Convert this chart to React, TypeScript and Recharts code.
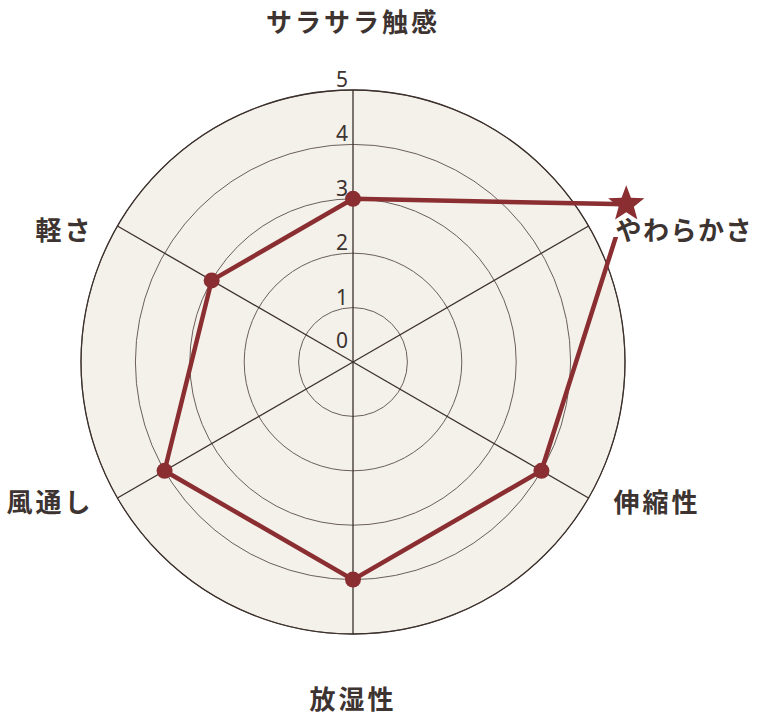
import React from 'react';
import { RadarChart, Radar, PolarGrid, PolarAngleAxis, PolarRadiusAxis } from 'recharts';

// 6 items, clockwise from the top
const categories = ['サラサラ触感', 'やわらかさ', '伸縮性', '放湿性', '風通し', '軽さ'];
const scores = [3, 5.8, 4, 4, 4, 3];
const radiusTicks = [0, 1, 2, 3, 4, 5];
const starIndex = 1; // やわらかさ gets the star mark

const data = categories.map((c, i) => ({ axis: c, score: scores[i] }));

const W = 758;
const H = 719;
const CX = 353;
const CY = 362;
const R = 272;

const RED = '#8a2e32';
const TEXT = '#3d3431';
const JP_FONT = '"Noto Sans CJK JP", "Noto Sans", sans-serif';

// label placement relative to the point Recharts gives (outer radius + 8)
const labelLayout = [
  { dx: 0, dy: -62, anchor: 'middle', ls: 3 },
  { dx: 20, dy: 6, anchor: 'start', ls: 1.5, bg: true },
  { dx: 18, dy: -2, anchor: 'start', ls: 3 },
  { dx: 0, dy: 55, anchor: 'middle', ls: 3 },
  { dx: -17, dy: -2, anchor: 'end', ls: 3 },
  { dx: -17, dy: 6, anchor: 'end', ls: 3 },
];

const AngleTick = (props: any) => {
  const { x, y, payload, index } = props;
  const l = labelLayout[index] || { dx: 0, dy: 0, anchor: 'middle', ls: 0 };
  const tx = x + l.dx;
  const ty = y + l.dy;
  return (
    <g>
      {l.bg && <rect x={tx - 6} y={ty - 16} width={142} height={25} fill="#ffffff" />}
      <text
        x={tx}
        y={ty}
        textAnchor={l.anchor}
        dominantBaseline="central"
        fill={TEXT}
        fontSize={26}
        fontWeight={700}
        letterSpacing={l.ls}
        fontFamily={JP_FONT}
      >
        {payload.value}
      </text>
    </g>
  );
};

const RadiusTick = (props: any) => {
  const { x, y, payload } = props;
  const lift = payload.value === 0 ? 22 : 11;
  return (
    <text
      x={x - 5}
      y={y - lift}
      textAnchor="end"
      dominantBaseline="central"
      fill={TEXT}
      fontSize={21}
      fontFamily='"Noto Sans", sans-serif'
    >
      {payload.value}
    </text>
  );
};

const starPoints = (cx: number, cy: number, outer: number, inner: number) => {
  const pts: string[] = [];
  for (let i = 0; i < 10; i++) {
    const r = i % 2 === 0 ? outer : inner;
    const a = -Math.PI / 2 + (i * Math.PI) / 5;
    pts.push(`${cx + r * Math.cos(a)},${cy + r * Math.sin(a)}`);
  }
  return pts.join(' ');
};

const ScoreDot = (props: any) => {
  const { cx, cy, index } = props;
  if (index === starIndex) {
    return <polygon key={`dot-${index}`} points={starPoints(cx, cy, 19, 8)} fill={RED} />;
  }
  return <circle key={`dot-${index}`} cx={cx} cy={cy} r={8} fill={RED} />;
};

export default function App() {
  return (
    <div style={{ position: 'relative', width: W, height: H }}>
      <style>{`body{margin:0;}`}</style>
      <div
        style={{
          position: 'absolute',
          left: CX - R,
          top: CY - R,
          width: R * 2,
          height: R * 2,
          borderRadius: '50%',
          background: '#f4f1ea',
        }}
      />
      <div style={{ position: 'absolute', left: 0, top: 0 }}>
        <RadarChart
          width={W}
          height={H}
          data={data}
          cx={CX}
          cy={CY}
          outerRadius={R}
          margin={{ top: 0, right: 0, bottom: 0, left: 0 }}
        >
          <PolarGrid gridType="circle" radialLines={false} stroke="#6a5f5a" strokeWidth={1} />
          <PolarGrid gridType="circle" polarRadius={[R]} stroke="#3b302c" strokeWidth={1.3} />
          <PolarRadiusAxis
            angle={90}
            domain={[0, 5]}
            ticks={radiusTicks as any}
            tickCount={6}
            allowDataOverflow
            axisLine={false}
            tick={RadiusTick}
          />
          <Radar
            dataKey="score"
            stroke={RED}
            strokeWidth={4.5}
            fill="none"
            fillOpacity={0}
            dot={ScoreDot}
            isAnimationActive={false}
          />
          <PolarAngleAxis dataKey="axis" tick={AngleTick} tickLine={false} axisLine={false} />
        </RadarChart>
      </div>
    </div>
  );
}
